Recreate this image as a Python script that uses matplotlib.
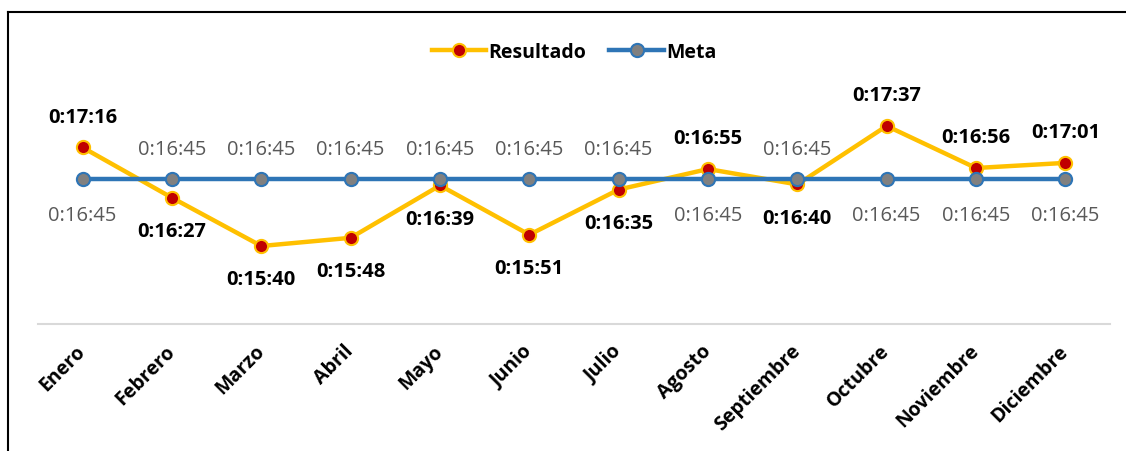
import matplotlib.pyplot as plt
from matplotlib.lines import Line2D

plt.rcParams['font.family'] = ['Open Sans', 'DejaVu Sans']

meses = ['Enero', 'Febrero', 'Marzo', 'Abril', 'Mayo', 'Junio', 'Julio',
         'Agosto', 'Septiembre', 'Octubre', 'Noviembre', 'Diciembre']
resultado = ['0:17:16', '0:16:27', '0:15:40', '0:15:48', '0:16:39', '0:15:51',
             '0:16:35', '0:16:55', '0:16:40', '0:17:37', '0:16:56', '0:17:01']
meta = ['0:16:45'] * 12
# posición de las etiquetas: 1 arriba, -1 abajo
pos_res = [1, -1, -1, -1, -1, -1, -1, 1, -1, 1, 1, 1]
pos_meta = [-1, 1, 1, 1, 1, 1, 1, -1, 1, -1, -1, -1]


def a_seg(t):
    h, m, s = t.split(':')
    return int(h) * 3600 + int(m) * 60 + int(s)


res_s = [a_seg(t) for t in resultado]
meta_s = [a_seg(t) for t in meta]
x = list(range(len(meses)))

fig = plt.figure(figsize=(11.26, 4.52), dpi=100)
ax = fig.add_axes([38 / 1126, 127 / 452, 1072 / 1126, 266 / 452])

ax.plot(x, res_s, color='#FFC000', lw=3.2, marker='o', ms=9.5,
        mfc='#C00000', mec='#FFC000', mew=1.5, label='Resultado', zorder=3)
ax.plot(x, meta_s, color='#2E75B6', lw=3.2, marker='o', ms=9.5,
        mfc='#808080', mec='#2E75B6', mew=1.5, label='Meta', zorder=4)

for i in x:
    off_r = 22 if pos_res[i] > 0 else -24
    off_m = 22 if pos_meta[i] > 0 else -25.5
    ax.annotate(resultado[i], (i, res_s[i]), xytext=(0, off_r),
                textcoords='offset points', ha='center', va='center',
                fontsize=14.5, fontweight='bold', color='black')
    ax.annotate(meta[i], (i, meta_s[i]), xytext=(0, off_m),
                textcoords='offset points', ha='center', va='center',
                fontsize=14.5, color='#595959')

ax.set_xlim(-0.5, 11.5)
ax.set_ylim(864, 1123.2)
ax.set_yticks([])
ax.set_xticks(x)
ax.set_xticklabels(meses, rotation=45, ha='right', va='center',
                   rotation_mode='anchor', fontsize=14, fontweight='bold')
ax.tick_params(axis='x', length=0, pad=17)
for s in ['top', 'right', 'left']:
    ax.spines[s].set_visible(False)
ax.spines['bottom'].set_color('#D9D9D9')
ax.spines['bottom'].set_linewidth(1.5)

ax.legend(loc='center', bbox_to_anchor=(0.5, 1 + 6 / 266), ncol=2, frameon=False,
          prop={'weight': 'bold', 'size': 14}, handlelength=2.8,
          columnspacing=1.2, handletextpad=0.1)

# marco de la imagen
fig.add_artist(Line2D([8 / 1126, 8 / 1126], [0, 1 - 13 / 452], color='black', lw=1.5))
fig.add_artist(Line2D([8 / 1126, 1], [1 - 13 / 452, 1 - 13 / 452], color='black', lw=1.5))

fig.savefig('out.png', dpi=100)
